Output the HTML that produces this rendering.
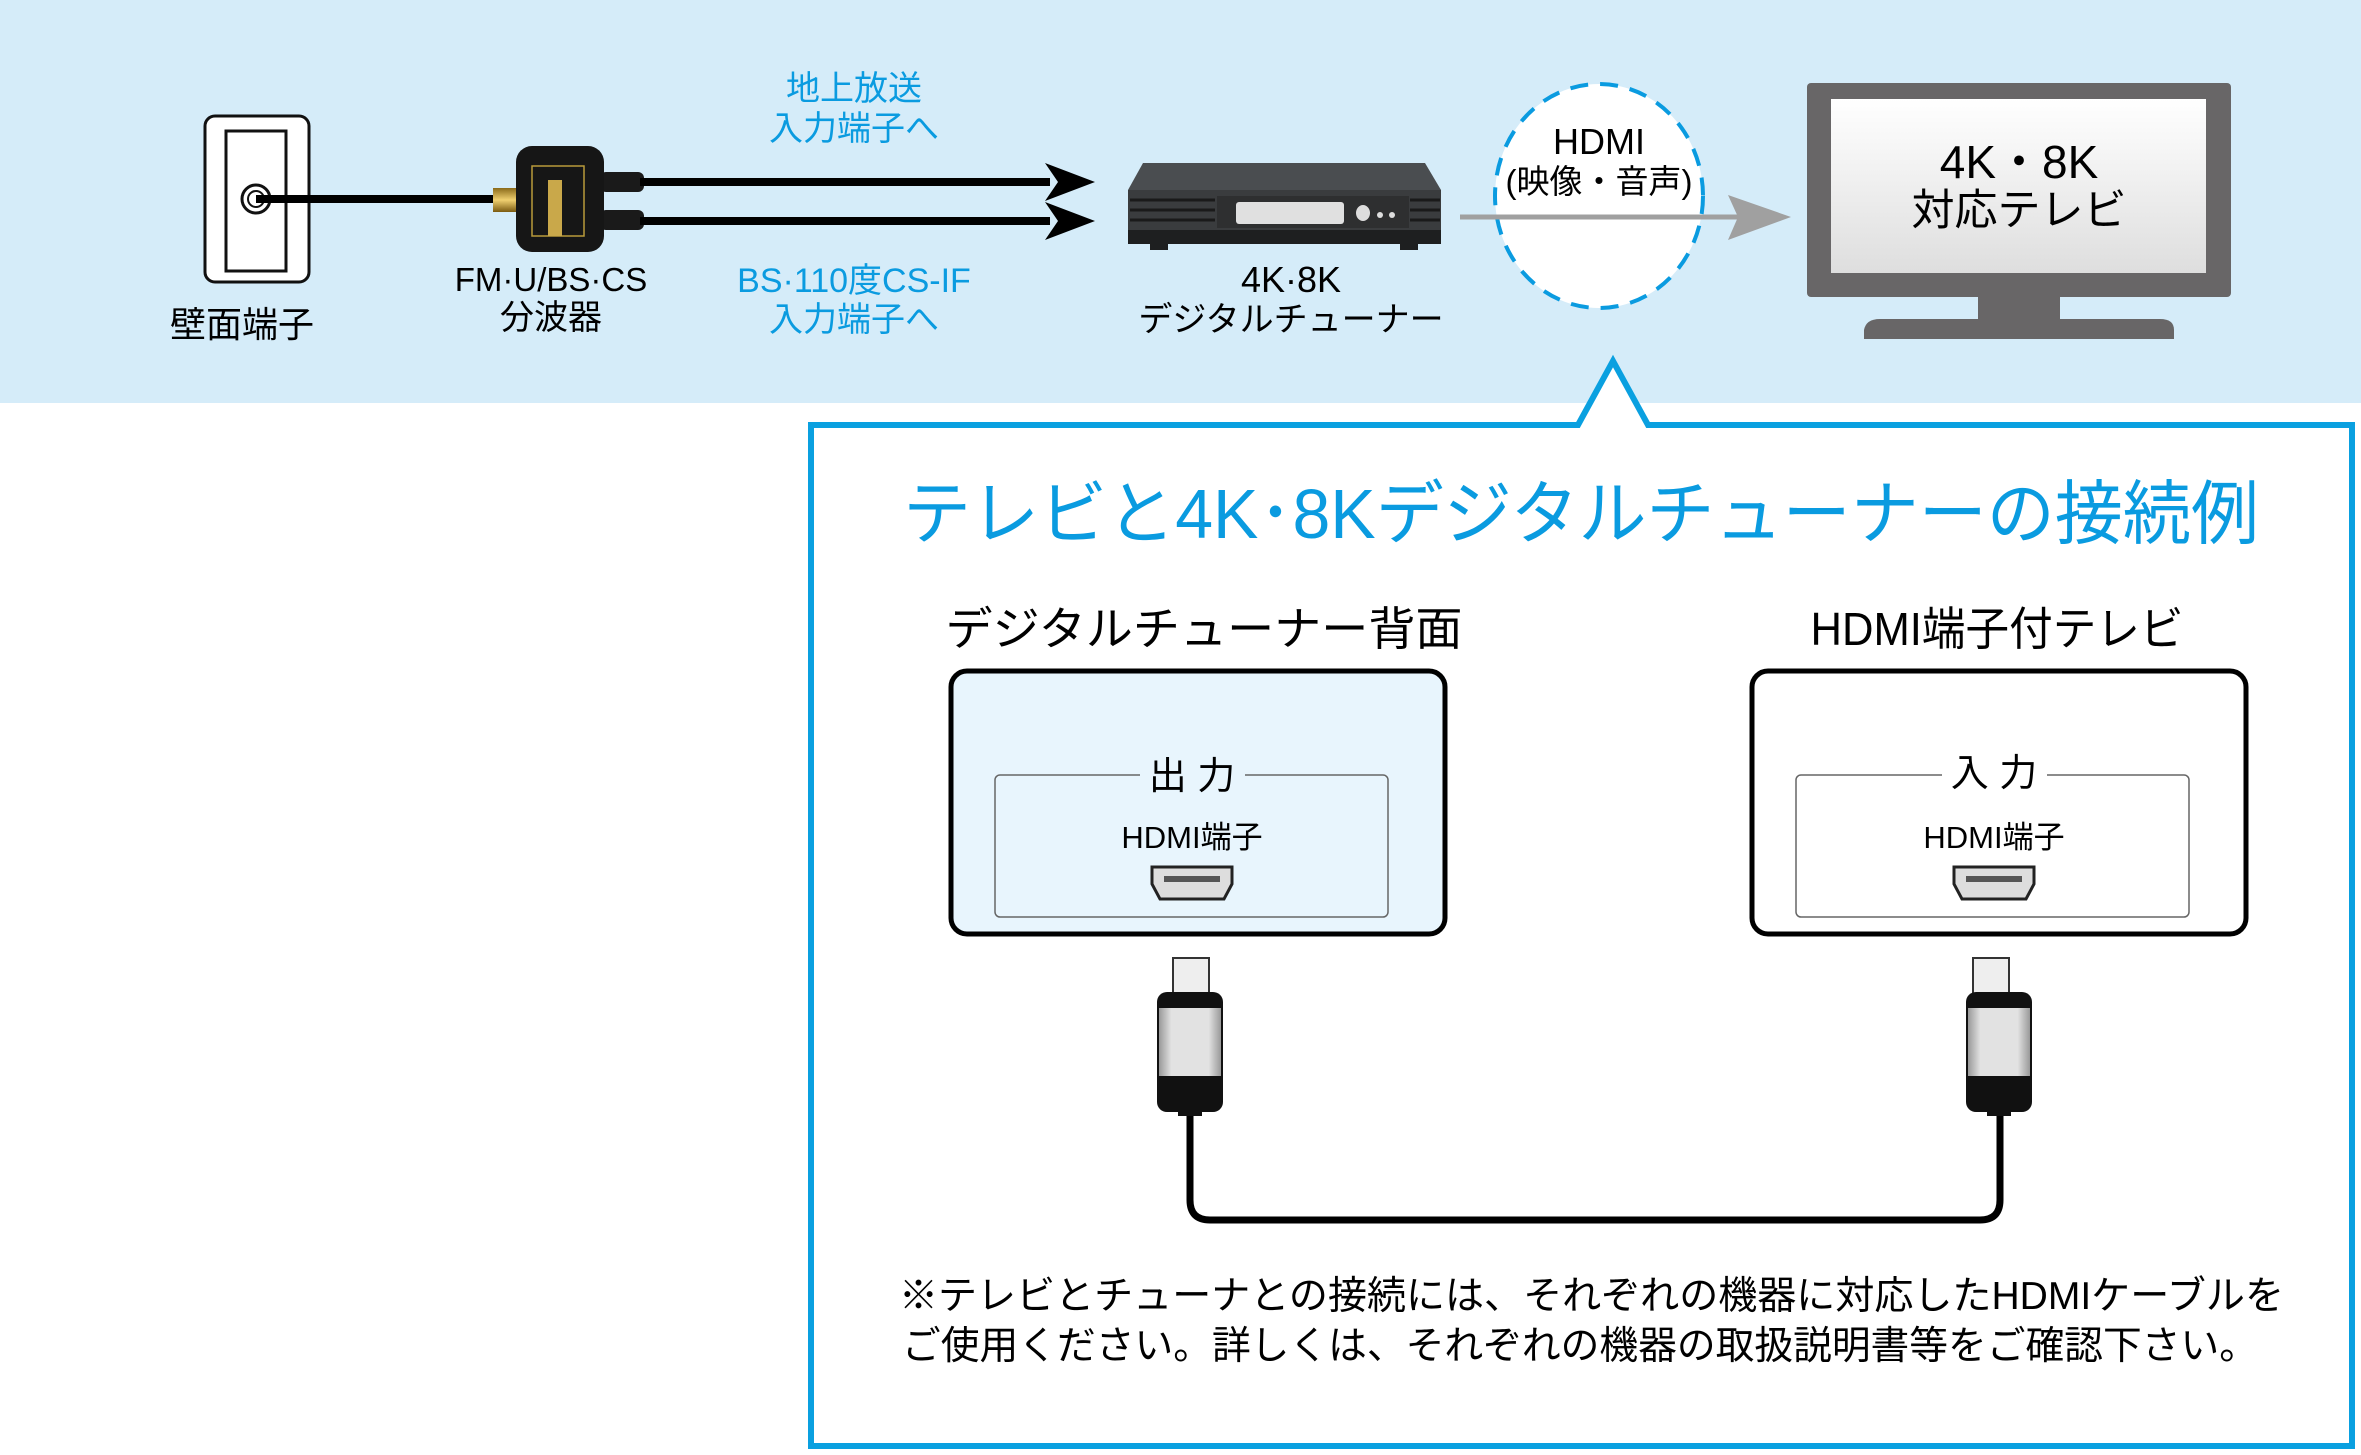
<!DOCTYPE html>
<html><head><meta charset="utf-8"><style>
html,body{margin:0;padding:0;background:#fff;}
svg{display:block;}
text{font-family:"Liberation Sans","Noto Sans CJK JP",sans-serif;}
</style></head><body>
<svg width="2361" height="1455" viewBox="0 0 2361 1455" xmlns="http://www.w3.org/2000/svg">
<defs>
<linearGradient id="scr" x1="0" y1="0" x2="0" y2="1"><stop offset="0" stop-color="#ffffff"/><stop offset="1" stop-color="#dedede"/></linearGradient>
<linearGradient id="gold" x1="0" y1="0" x2="0" y2="1"><stop offset="0" stop-color="#8a6a1a"/><stop offset=".5" stop-color="#f0d070"/><stop offset="1" stop-color="#7a5a10"/></linearGradient>
<linearGradient id="plug" x1="0" y1="0" x2="1" y2="0"><stop offset="0" stop-color="#999"/><stop offset=".2" stop-color="#e2e2e2"/><stop offset=".8" stop-color="#e2e2e2"/><stop offset="1" stop-color="#999"/></linearGradient>
</defs>
<!-- band -->
<rect x="0" y="0" width="2361" height="403" fill="#d5ecf9"/>

<!-- wall plate -->
<rect x="205" y="116" width="104" height="166" rx="10" fill="#fff" stroke="#111" stroke-width="3"/>
<rect x="226" y="131" width="60" height="140" fill="#fff" stroke="#111" stroke-width="3"/>
<circle cx="256" cy="199" r="14" fill="#fff" stroke="#111" stroke-width="3"/>
<circle cx="256" cy="199" r="8" fill="#fff" stroke="#111" stroke-width="2"/>
<line x1="256" y1="199" x2="495" y2="199" stroke="#000" stroke-width="8"/>

<!-- splitter -->
<rect x="493" y="188" width="24" height="24" fill="url(#gold)"/>
<rect x="600" y="172" width="44" height="20" rx="6" fill="#1a1a1a"/>
<rect x="600" y="210" width="44" height="20" rx="6" fill="#1a1a1a"/>
<rect x="516" y="146" width="88" height="106" rx="16" fill="#161616"/>
<rect x="532" y="166" width="52" height="70" fill="none" stroke="#b89a3a" stroke-width="1.5"/>
<rect x="548" y="180" width="14" height="56" fill="#c9a84a"/>
<line x1="640" y1="182" x2="1050" y2="182" stroke="#000" stroke-width="8"/>
<line x1="640" y1="221" x2="1050" y2="221" stroke="#000" stroke-width="8"/>
<polygon points="1045,163 1095,182 1045,201 1058,182" fill="#000"/>
<polygon points="1045,202 1095,221 1045,240 1058,221" fill="#000"/>

<!-- labels top -->
<g font-size="34" text-anchor="middle" fill="#0a9be0">
<text x="854" y="100">地上放送</text>
<text x="854" y="140">入力端子へ</text>
<text x="854" y="292">BS·110度CS-IF</text>
<text x="854" y="331">入力端子へ</text>
</g>
<g font-size="36" text-anchor="middle" fill="#000">
<text x="242" y="337">壁面端子</text>
<text x="551" y="291" font-size="33">FM·U/BS·CS</text>
<text x="551" y="329" font-size="34">分波器</text>
<text x="1291" y="292">4K·8K</text>
<text x="1291" y="331" font-size="34">デジタルチューナー</text>
</g>

<!-- tuner -->
<polygon points="1143,163 1425,163 1441,190 1128,190" fill="#4a4d50"/>
<rect x="1128" y="190" width="313" height="40" fill="#3a3c3e"/>
<g stroke="#1a1a1a" stroke-width="3">
<line x1="1130" y1="200" x2="1215" y2="200"/><line x1="1130" y1="210" x2="1215" y2="210"/><line x1="1130" y1="220" x2="1215" y2="220"/>
<line x1="1410" y1="200" x2="1440" y2="200"/><line x1="1410" y1="210" x2="1440" y2="210"/><line x1="1410" y1="220" x2="1440" y2="220"/>
</g>
<rect x="1217" y="196" width="192" height="32" fill="#2e2f30"/>
<rect x="1236" y="202" width="108" height="22" rx="3" fill="#e0e0e0"/>
<ellipse cx="1363" cy="213" rx="7" ry="8" fill="#ddd"/>
<circle cx="1380" cy="215" r="3" fill="#ddd"/><circle cx="1392" cy="215" r="3" fill="#ddd"/>
<rect x="1128" y="230" width="313" height="14" fill="#1e1f20"/>
<rect x="1150" y="244" width="18" height="6" fill="#1e1f20"/><rect x="1400" y="244" width="18" height="6" fill="#1e1f20"/>

<!-- HDMI circle -->
<ellipse cx="1599" cy="196" rx="104" ry="112" fill="#fff" stroke="#0a9be0" stroke-width="4" stroke-dasharray="18 12"/>
<line x1="1460" y1="217" x2="1740" y2="217" stroke="#a0a0a0" stroke-width="5"/>
<polygon points="1728,195 1791,217 1728,240 1738,217" fill="#a0a0a0"/>
<text x="1599" y="154" font-size="36" text-anchor="middle">HDMI</text>
<text x="1599" y="193" font-size="33" text-anchor="middle">(映像・音声)</text>

<!-- TV -->
<rect x="1807" y="83" width="424" height="214" rx="4" fill="#686667"/>
<rect x="1831" y="99" width="375" height="174" fill="url(#scr)"/>
<rect x="1978" y="297" width="82" height="23" fill="#686667"/>
<path d="M1880 319 H2160 Q2174 319 2174 330 V339 H1864 V330 Q1866 319 1880 319Z" fill="#686667"/>
<text x="2019" y="178" font-size="46" text-anchor="middle">4K・8K</text>
<text x="2019" y="225" font-size="43" text-anchor="middle">対応テレビ</text>

<!-- callout -->
<path d="M811 425 H1578 L1613 361 L1648 425 H2352 V1446 H811 Z" fill="#fff" stroke="#0aa0e0" stroke-width="6"/>
<text x="1581" y="538" font-size="70" text-anchor="middle" fill="#0a9be0" textLength="1356" lengthAdjust="spacingAndGlyphs">テレビと4K･8Kデジタルチューナーの接続例</text>
<text x="1204" y="645" font-size="46" text-anchor="middle" textLength="517" lengthAdjust="spacingAndGlyphs">デジタルチューナー背面</text>
<text x="1997" y="645" font-size="46" text-anchor="middle" textLength="373" lengthAdjust="spacingAndGlyphs">HDMI端子付テレビ</text>

<!-- left box -->
<rect x="951" y="671" width="494" height="263" rx="16" fill="#e8f5fd" stroke="#000" stroke-width="5"/>
<rect x="995" y="775" width="393" height="142" rx="5" fill="none" stroke="#666" stroke-width="1.5"/>
<rect x="1140" y="755" width="105" height="40" fill="#e8f5fd"/>
<text x="1192" y="789" font-size="38" text-anchor="middle">出 力</text>
<text x="1192" y="848" font-size="31" text-anchor="middle">HDMI端子</text>
<path d="M1152 867 H1232 V884 L1224 899 H1160 L1152 884Z" fill="#ddd" stroke="#222" stroke-width="3"/>
<rect x="1164" y="876" width="56" height="6" fill="#555"/>

<!-- right box -->
<rect x="1752" y="671" width="494" height="263" rx="16" fill="#fff" stroke="#000" stroke-width="5"/>
<rect x="1796" y="775" width="393" height="142" rx="5" fill="none" stroke="#666" stroke-width="1.5"/>
<rect x="1942" y="755" width="105" height="40" fill="#fff"/>
<text x="1994" y="786" font-size="38" text-anchor="middle">入 力</text>
<text x="1994" y="848" font-size="31" text-anchor="middle">HDMI端子</text>
<path d="M1954 867 H2034 V884 L2026 899 H1962 L1954 884Z" fill="#ddd" stroke="#222" stroke-width="3"/>
<rect x="1966" y="876" width="56" height="6" fill="#555"/>

<!-- cable -->
<path d="M1190 1110 V1200 Q1190 1220 1210 1220 H1980 Q2000 1220 2000 1200 V1110" fill="none" stroke="#000" stroke-width="7"/>
<g>
<rect x="1173" y="958" width="36" height="38" fill="#eee" stroke="#333" stroke-width="2"/>
<rect x="1157" y="992" width="66" height="120" rx="10" fill="#111"/>
<rect x="1159" y="1008" width="62" height="68" fill="url(#plug)"/>
<rect x="1178" y="1108" width="24" height="8" fill="#111"/>
<rect x="1973" y="958" width="36" height="38" fill="#eee" stroke="#333" stroke-width="2"/>
<rect x="1966" y="992" width="66" height="120" rx="10" fill="#111"/>
<rect x="1968" y="1008" width="62" height="68" fill="url(#plug)"/>
<rect x="1987" y="1108" width="24" height="8" fill="#111"/>
</g>

<!-- footnote -->
<text x="899" y="1309" font-size="39" textLength="1385" lengthAdjust="spacingAndGlyphs">※テレビとチューナとの接続には、それぞれの機器に対応したHDMIケーブルを</text>
<text x="902" y="1359" font-size="39" textLength="1356" lengthAdjust="spacingAndGlyphs">ご使用ください。詳しくは、それぞれの機器の取扱説明書等をご確認下さい。</text>
</svg>
</body></html>
